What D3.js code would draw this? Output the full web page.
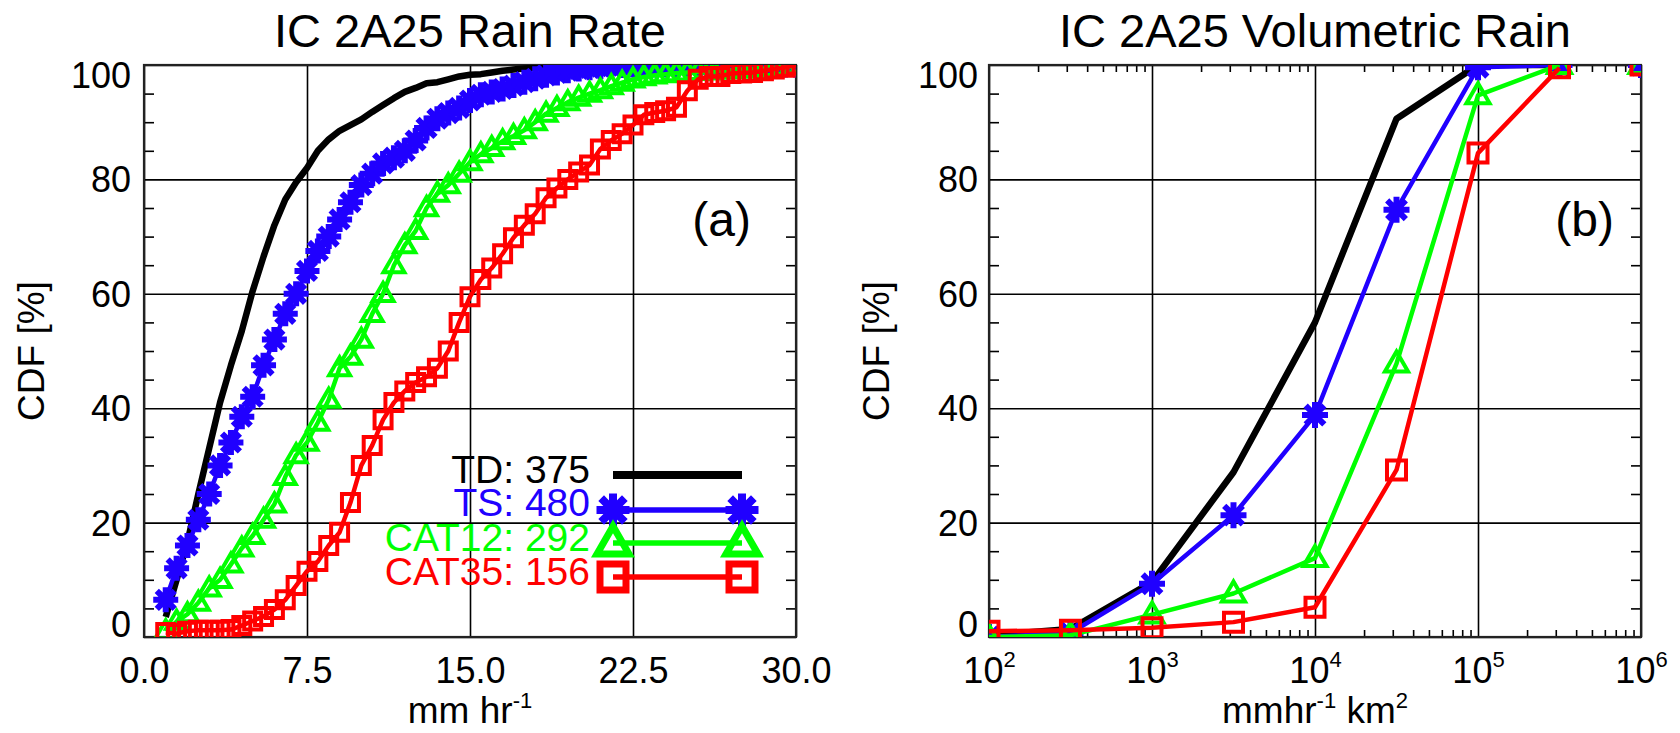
<!DOCTYPE html>
<html><head><meta charset="utf-8">
<script src="https://cdn.jsdelivr.net/npm/d3@7"></script>
<style>body{margin:0;background:#fff}svg{display:block}</style>
</head><body><svg id="c" width="1680" height="733"></svg>
<script>
// ---------------- DATA ----------------
const rateBins = [1.0,1.5,2.0,2.5,3.0,3.5,4.0,4.5,5.0,5.5,6.0,6.5,7.0,7.5,8.0,8.5,9.0,9.5,10.0,10.5,
  11.0,11.5,12.0,12.5,13.0,13.5,14.0,14.5,15.0,15.5,16.0,16.5,17.0,17.5,18.0,18.5,19.0,19.5,20.0,20.5,
  21.0,21.5,22.0,22.5,23.0,23.5,24.0,24.5,25.0,25.5,26.0,26.5,27.0,27.5,28.0,28.5,29.0,29.5,30.0];
const tdRate = [3.5,10,16.6,25,33,41,47.5,53.5,60.5,66.5,72,76.5,79.5,82,85,87,88.5,89.5,90.5,91.8,
  93,94.2,95.3,96,96.8,97,97.5,98,98.3,98.4,98.7,99,99.2,99.4,99.5,99.8,100];
const tsRate = [6.5,12,16,20.5,25,30,34,38.5,42,47.5,52,56.5,60,64,67.5,70,73,76,79,81,
  82.8,83.8,85,86.8,89,90.6,91.6,92.5,93.8,94.8,95.3,95.8,96.4,97,97.6,98.2,98.6,99,99.3,99.5,
  99.7,99.8,99.9,100,100,100,100,100,100,100,100,100,100,100,100,100,100,100,100];
const cat12Rate = [1,2.7,4,6,8.5,10,12.7,15.5,17.7,20.5,23.2,28,31.8,34,37.5,41.5,47,49,52,56.5,
  60,65,68.5,71,75,77.5,79,81,83,84.4,85.5,86.7,87.6,88.6,90,91.5,92.5,93.5,94.3,95,
  95.6,96.3,96.9,97.5,97.9,98.2,98.4,98.6,98.7,98.8,98.9,99,99.1,99.2,99.3,99.4,99.5,99.7,100];
const cat35Rate = [0.8,0.6,1.0,1.2,1.2,1.2,1.3,2.0,2.8,3.6,4.8,6.5,9.0,11.5,13.2,16,18.3,23.5,30,33.5,
  38,41,43,44.5,45.5,47,50,55,59.5,62.5,64.5,67,69.8,72,74,76.8,78.5,80,81.3,82.5,
  85.3,86.8,88,89.5,91.3,91.7,92,92.6,95.5,97.5,98,98,98.5,98.6,98.7,99,99.3,99.6,100];

const volBins = [100,316,1000,3162,10000,31623,100000,316228,1000000];
const tdVol    = [0.3,1.4,9.6,28.8,55,90.6,100,100,100];
const tsVol    = [0,0.7,9.3,21.3,38.8,74.7,99.6,100,100];
const cat12Vol = [0,0.3,3.9,7.6,13.8,47.8,94.7,100,100];
const cat35Vol = [1.0,1.2,1.6,2.6,5.2,29.2,84.6,99.5,100];

const seriesNames = ["TD","TS","CAT12","CAT35"];
const seriesCounts = [375,480,292,156];
const seriesColors = ["#000000","#2000ff","#00ff00","#ff0000"];
const seriesMarkers = [null,"star","triangle","square"];

const rateTicks = [0,7.5,15,22.5,30];
const cdfTicks = [0,20,40,60,80,100];
const cdfMinor = [5,10,15,25,30,35,45,50,55,65,70,75,85,90,95];
const volTicks = [1e2,1e3,1e4,1e5,1e6];
const volExp = ["2","3","4","5","6"];

// ---------------- DRAW ----------------
const font = '"Liberation Sans", Arial, Helvetica, sans-serif';
const svg = d3.select("#c");
const rateData = [tdRate,tsRate,cat12Rate,cat35Rate];
const volData = [tdVol,tsVol,cat12Vol,cat35Vol];

function markerPath(type,s){
  const r=s/2;
  if(type==="square") return `M${-r},${-r}H${r}V${r}H${-r}Z`;
  if(type==="triangle") return `M0,${-r*1.15}L${r*1.1},${r*0.75}L${-r*1.1},${r*0.75}Z`;
  if(type==="star"){const d=r*0.72;return `M${-r},0H${r}M0,${-r}V${r}M${-d},${-d}L${d},${d}M${-d},${d}L${d},${-d}`;}
  return "";
}
const mSize = {a:{square:17,triangle:19,star:19}, b:{square:19,triangle:21,star:20}, leg:{square:26,triangle:29,star:25}};
const mStroke = {a:{square:4,triangle:4,star:6}, b:{square:4,triangle:4,star:6}, leg:{square:7,triangle:7,star:8}};

function frame(g,x0,y0,w,h,id){
  g.append("clipPath").attr("id",id).append("rect").attr("x",x0).attr("y",y0).attr("width",w).attr("height",h);
}
function styleAxis(sel,size){
  sel.attr("font-family",font).attr("font-size",size);
  sel.select(".domain").remove();
  sel.selectAll("line").attr("stroke","#000").attr("stroke-width",1.6);
  sel.selectAll("text").attr("fill","#000");
}

function drawPanel(cfg){
  const {x,y,left,top,w,h,clipId,title,titleX,tag,tagX} = cfg;
  const g = svg.append("g");
  frame(g,left,top,w,h,clipId);
  const gx = g.append("g").attr("transform",`translate(0,${top+h})`)
    .call(d3.axisBottom(x).tickValues(cfg.xTicks).tickSize(-h).tickPadding(0).tickFormat(cfg.xFmt));
  styleAxis(gx,36);
  gx.selectAll("text").attr("y",46).attr("dy",0);
  if(cfg.logLabels){
    gx.selectAll(".tick text").each(function(d,i){
      const t=d3.select(this); t.text("");
      t.append("tspan").text("10");
      t.append("tspan").attr("font-size",22).attr("dy",-16).text(volExp[i]);
    });
  }
  const gy = g.append("g").attr("transform",`translate(${left},0)`)
    .call(d3.axisLeft(y).tickValues(cdfTicks).tickSize(-w).tickPadding(cfg.yPad));
  styleAxis(gy,36);
  gy.selectAll("text").attr("dy",d=> d===100? "22px" : (d===0? "-1px":"12.5px"));
  const mL = g.append("g").attr("transform",`translate(${left},0)`).call(d3.axisLeft(y).tickValues(cdfMinor).tickSize(-10).tickFormat(""));
  const mR = g.append("g").attr("transform",`translate(${left+w},0)`).call(d3.axisRight(y).tickValues(cdfMinor).tickSize(-10).tickFormat(""));
  styleAxis(mL,10); styleAxis(mR,10);
  if(cfg.xMinor){
    const mB = g.append("g").attr("transform",`translate(0,${top+h})`).call(d3.axisBottom(x).tickValues(cfg.xMinor).tickSize(-7).tickFormat(""));
    const mT = g.append("g").attr("transform",`translate(0,${top})`).call(d3.axisTop(x).tickValues(cfg.xMinor).tickSize(-7).tickFormat(""));
    styleAxis(mB,10); styleAxis(mT,10);
  }
  g.append("rect").attr("x",left).attr("y",top).attr("width",w).attr("height",h)
    .attr("fill","none").attr("stroke","#222").attr("stroke-width",2.2);

  const dg = g.append("g").attr("clip-path",`url(#${clipId})`);
  cfg.data.forEach((vals,si)=>{
    const pts = vals.map((v,i)=>[x(cfg.bins[i]),y(v)]);
    const linePts = cfg.lineN ? pts.slice(0,cfg.lineN) : pts;
    dg.append("path").attr("d",d3.line()(linePts)).attr("fill","none")
      .attr("stroke",seriesColors[si]).attr("stroke-width",si===0?6.5:4.5).attr("stroke-linejoin","round");
    const mk = seriesMarkers[si];
    if(mk){
      dg.selectAll(null).data(pts).join("path")
        .attr("transform",p=>`translate(${p[0]},${p[1]})`)
        .attr("d",markerPath(mk,mSize[cfg.mk][mk]))
        .attr("fill","none").attr("stroke",seriesColors[si]).attr("stroke-width",mStroke[cfg.mk][mk])
        .attr("stroke-linejoin","miter").attr("stroke-linecap",mk==="star"?"square":"butt");
    }
  });

  g.append("text").attr("x",titleX).attr("y",47).attr("text-anchor","middle")
    .attr("font-family",font).attr("font-size",47).text(title);
  g.append("text").attr("x",tagX).attr("y",236).attr("text-anchor","end")
    .attr("font-family",font).attr("font-size",48).text(tag);
  g.append("text").attr("transform",`translate(${cfg.yLabX},351) rotate(-90)`).attr("text-anchor","middle")
    .attr("font-family",font).attr("font-size",37).text("CDF [%]");
  const xl = g.append("text").attr("x",left+w/2).attr("y",723).attr("text-anchor","middle")
    .attr("font-family",font).attr("font-size",37);
  cfg.xLabel.forEach(part=>{
    if(part.sup) xl.append("tspan").attr("font-size",22).attr("dy",-15).text(part.t);
    else xl.append("tspan").attr("dy",part.after?15:0).text(part.t);
  });
  return g;
}

const xA = d3.scaleLinear().domain([0,30]).range([144,796]);
const yA = d3.scaleLinear().domain([0,100]).range([637,65]);
const gA = drawPanel({x:xA,y:yA,left:144,top:65,w:652,h:572,clipId:"clipA",
  title:"IC 2A25 Rain Rate",titleX:470,tag:"(a)",tagX:751,xTicks:rateTicks,xFmt:d3.format(".1f"),
  yPad:13,bins:rateBins,data:rateData,mk:"a",yLabX:44,
  xLabel:[{t:"mm hr"},{t:"-1",sup:true}]});

const xB = d3.scaleLog().domain([1e2,1e6]).range([989,1641]);
const yB = d3.scaleLinear().domain([0,100]).range([637,65]);
const volMinor = xB.ticks().filter(v=>!volTicks.includes(v));
drawPanel({x:xB,y:yB,left:989,top:65,w:652,h:572,clipId:"clipB",
  title:"IC 2A25 Volumetric Rain",titleX:1315,tag:"(b)",tagX:1614,xTicks:volTicks,xFmt:d3.format("d"),logLabels:true,
  xMinor:volMinor,yPad:11,bins:volBins,data:volData,mk:"b",lineN:8,yLabX:889,
  xLabel:[{t:"mmhr"},{t:"-1",sup:true},{t:" km",after:true},{t:"2",sup:true}]});

// legend (panel a)
const legY = [475,510,543,577];
const legTextY = [483,516,551,585];
const leg = gA.append("g");
seriesNames.forEach((nm,i)=>{
  leg.append("text").attr("x",590).attr("y",legTextY[i]).attr("text-anchor","end")
    .attr("font-family",font).attr("font-size",39).attr("fill",seriesColors[i]).text(`${nm}: ${seriesCounts[i]}`);
  const x0=613,x1=742;
  leg.append("line").attr("x1",x0).attr("x2",x1).attr("y1",legY[i]).attr("y2",legY[i])
    .attr("stroke",seriesColors[i]).attr("stroke-width",i===0?8:5.5);
  const mk=seriesMarkers[i];
  if(mk){
    [x0,x1].forEach(xx=>{
      leg.append("path").attr("transform",`translate(${xx},${legY[i]})`).attr("d",markerPath(mk,mSize.leg[mk]))
        .attr("fill","none").attr("stroke",seriesColors[i]).attr("stroke-width",mStroke.leg[mk])
        .attr("stroke-linecap",mk==="star"?"square":"butt");
    });
  }
});
</script>
</body></html>
